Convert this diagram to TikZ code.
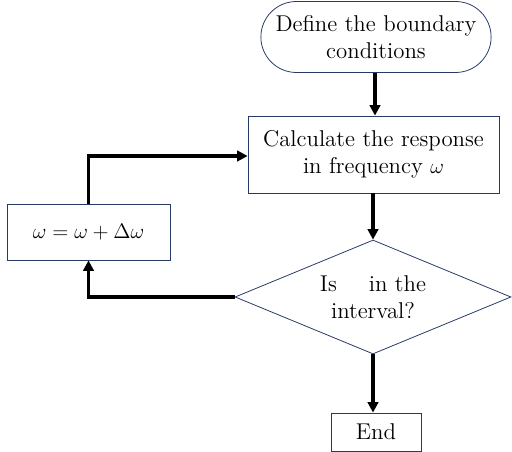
\documentclass[tikz,border=0pt]{standalone}
\usepackage{tikz}
\usetikzlibrary{shapes.geometric,shapes.misc,arrows.meta}
\definecolor{boxblue}{RGB}{38,58,100}
\tikzset{
	box/.style={draw=boxblue, line width=0.45pt, align=center, font=\fontsize{13}{15.5}\selectfont},
	flow/.style={line width=1.8pt, -{Triangle[length=6pt,width=6pt]}},
}

\begin{document}
\begin{tikzpicture}[x=0.02cm, y=-0.02cm]
		%%%%% START %%%%%
		\useasboundingbox (0, 0) rectangle (512, 452);
		
		\node[box, rounded rectangle, minimum width=4.84cm, minimum height=1.42cm] (define) at (376, 37) {Define the boundary\\conditions};
		\node[box, rectangle, minimum width=5.02cm, minimum height=1.54cm] (calc) at (373.5, 154.5) {Calculate the response\\in frequency $\omega$};
		\node[box, diamond, aspect=2.42, minimum width=5.52cm, minimum height=2.28cm, inner sep=0pt] (check) at (373, 297) {Is \hspace{0.75em} in the\\interval?};
		\node[box, rectangle, minimum width=1.8cm, minimum height=0.76cm] (finish) at (376, 432) {End};
		\node[box, rectangle, minimum width=3.26cm, minimum height=1.12cm] (step) at (88.5, 232) {$\omega = \omega + \Delta\omega$};
		
		\draw[flow] (define.south -| 375, 0) -- (calc.north -| 375, 0);
		\draw[flow] (calc.south -| check.north) -- (check.north);
		\draw[flow] (check.south) -- (finish.north -| check.south);
		
		\draw[flow] (check.west) -| (step.south);
		\draw[flow] (step.north) |- (calc.west |- 0, 156);
		%%%%% END %%%%%
	\end{tikzpicture}
\end{document}
